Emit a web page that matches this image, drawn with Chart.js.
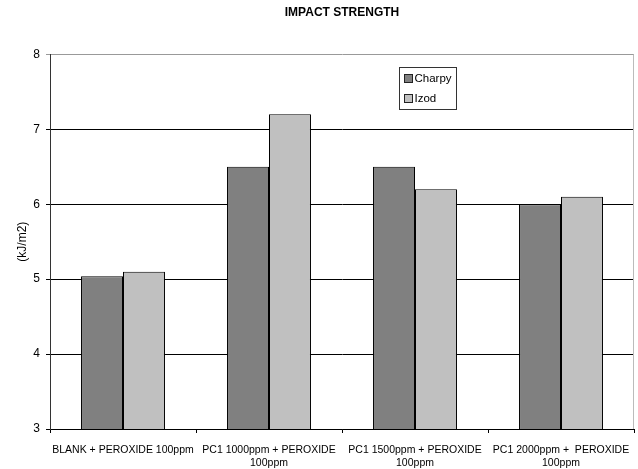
<!DOCTYPE html>
<html>
<head>
<meta charset="utf-8">
<script src="https://cdn.jsdelivr.net/npm/chart.js@4"></script>
<style>
  html, body { margin: 0; padding: 0; background: #fff; }
  #wrap { width: 638px; height: 469px; }
</style>
</head>
<body>
<div id="wrap"><canvas id="canvas"></canvas></div>
<script>
var categorias = [
    "BLANK + PEROXIDE 100ppm",
    ["PC1 1000ppm + PEROXIDE", "100ppm"],
    ["PC1 1500ppm + PEROXIDE", "100ppm"],
    ["PC1 2000ppm +  PEROXIDE", "100ppm"]
];
var charpy = [5.04, 6.5, 6.5, 6.0];
var izod = [5.1, 7.2, 6.2, 6.1];
var yTicks = [3, 4, 5, 6, 7, 8];

var fonte = "'Liberation Sans', Arial, sans-serif";

function createDataset(color, name, dados) {
    return {
        label: name,
        backgroundColor: color,
        borderColor: '#000',
        borderWidth: 1,
        data: dados
    };
}

// legenda desenhada dentro da area do grafico
var legendaInterna = {
    id: 'legendaInterna',
    afterDraw: function (chart) {
        var ctx = chart.ctx;
        var area = chart.chartArea;
        var x = Math.round(area.left + area.width * 0.598) + 0.5;
        var y = Math.round(area.top + 13) + 0.5;
        var w = 57, h = 42;
        ctx.save();
        ctx.fillStyle = '#fff';
        ctx.fillRect(x, y, w, h);
        ctx.strokeStyle = '#333';
        ctx.lineWidth = 1;
        ctx.strokeRect(x, y, w, h);
        ctx.font = '11.5px ' + fonte;
        ctx.textBaseline = 'middle';
        chart.data.datasets.forEach(function (ds, i) {
            var cy = y + 11.5 + i * 20;
            ctx.fillStyle = ds.backgroundColor;
            ctx.fillRect(x + 5, Math.round(cy - 4) - 0.5, 8, 8);
            ctx.strokeStyle = '#222';
            ctx.strokeRect(x + 5, Math.round(cy - 4) - 0.5, 8, 8);
            ctx.fillStyle = '#000';
            ctx.fillText(ds.label, x + 15, cy);
        });
        ctx.restore();
    }
};

// borda direita da area de plotagem
var bordaDireita = {
    id: 'bordaDireita',
    afterDraw: function (chart) {
        var ctx = chart.ctx;
        var area = chart.chartArea;
        ctx.save();
        ctx.strokeStyle = '#bbb';
        ctx.lineWidth = 1;
        ctx.beginPath();
        ctx.moveTo(Math.round(area.right) - 0.5, area.top);
        ctx.lineTo(Math.round(area.right) - 0.5, area.bottom);
        ctx.stroke();
        ctx.restore();
    }
};

var config = {
    type: 'bar',
    data: {
        labels: categorias,
        datasets: [
            createDataset('#808080', 'Charpy', charpy),
            createDataset('#c0c0c0', 'Izod', izod)
        ]
    },
    options: {
        responsive: true,
        maintainAspectRatio: false,
        animation: false,
        layout: { padding: { left: 0, right: 4, top: 0, bottom: 0 } },
        datasets: {
            bar: { categoryPercentage: 0.575, barPercentage: 1 }
        },
        plugins: {
            legend: { display: false },
            tooltip: { enabled: false },
            title: {
                display: true,
                text: 'IMPACT STRENGTH',
                color: '#000',
                fullSize: false,
                font: { family: fonte, size: 12, weight: 'bold' },
                padding: { top: 5, bottom: 35 }
            }
        },
        scales: {
            x: {
                afterFit: function (scale) {
                    scale.height = 40;
                    scale.paddingLeft = 0;
                    scale.paddingRight = 0;
                },
                grid: {
                    offset: true,
                    drawOnChartArea: false,
                    drawTicks: true,
                    tickLength: 4,
                    color: '#000'
                },
                border: { display: true, color: '#000' },
                ticks: {
                    color: '#000',
                    padding: 10,
                    maxRotation: 0,
                    autoSkip: false,
                    font: { family: fonte, size: 10.5, lineHeight: 1.3 }
                }
            },
            y: {
                min: 3,
                max: 8,
                afterFit: function (scale) {
                    scale.width = 50;
                    scale.paddingTop = 0;
                    scale.paddingBottom = 0;
                },
                afterBuildTicks: function (scale) {
                    scale.ticks = yTicks.map(function (v) { return { value: v }; });
                },
                grid: {
                    color: function (c) { return c.tick && c.tick.value === 8 ? '#999' : '#000'; },
                    tickLength: 4,
                    drawTicks: true
                },
                border: { display: true, color: '#333' },
                ticks: {
                    color: '#000',
                    padding: 6,
                    font: { family: fonte, size: 12 }
                },
                title: {
                    display: true,
                    text: '(kJ/m2)',
                    color: '#000',
                    font: { family: fonte, size: 12 },
                    padding: { top: 15, bottom: 0 }
                }
            }
        }
    },
    plugins: [legendaInterna, bordaDireita]
};

var ctx = document.getElementById('canvas').getContext('2d');
window.myBar = new Chart(ctx, config);
</script>
</body>
</html>
